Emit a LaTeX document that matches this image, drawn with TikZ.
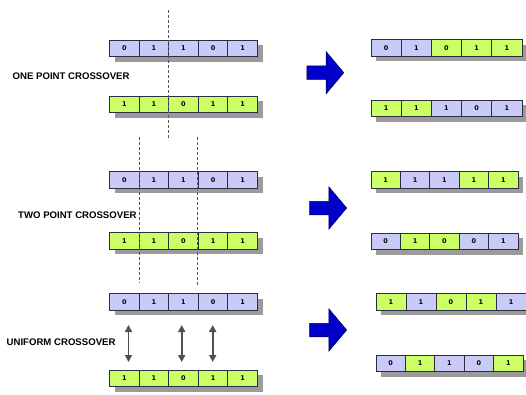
\documentclass[tikz,border=0pt]{standalone}
\usepackage{fontspec}
\setmainfont{Liberation Sans}
\newfontfamily\digitfont{DejaVu Sans}
\usetikzlibrary{arrows.meta,shapes.arrows}
\definecolor{bluec}{RGB}{202,202,248}
\definecolor{greenc}{RGB}{204,255,102}
\definecolor{shadowc}{RGB}{155,155,155}
\definecolor{borderc}{RGB}{45,45,65}
\definecolor{dashc}{RGB}{85,85,85}
\definecolor{arrowc}{RGB}{80,80,80}
\definecolor{bigarrow}{RGB}{0,0,200}
\tikzset{
  cell/.style={draw=borderc, line width=0.9pt, inner sep=0pt, minimum height=16.5pt,
    font=\digitfont\bfseries\fontsize{6.5}{7}\selectfont, anchor=center},
  cutline/.style={draw=dashc, line width=0.9pt, dash pattern=on 3pt off 2pt},
  swaparrow/.style={draw=arrowc, line width=1.7pt, {Triangle[width=7pt,length=7pt]}-{Triangle[width=7pt,length=7pt]}},
  bluearrow/.style={single arrow, draw=black!70!blue, line width=0.5pt, fill=bigarrow,
    single arrow head extend=14.5pt, single arrow tip angle=100, inner xsep=0pt, inner ysep=6.5pt,
    minimum height=37pt},
  lbl/.style={font=\bfseries\fontsize{9.6}{11}\selectfont, anchor=west, inner sep=0pt}
}
\newcommand\chromo[5]{%
  \fill[shadowc] (#2+5,#3+5) rectangle ++(5*#4,16.5);
  \foreach \c/\d [count=\i] in {#5} {
    \node[cell, fill=\c, minimum width=#4 pt] (#1-\i) at ({#2+#4*\i-#4/2},{#3+8.25}) {\d};
  }%
}
\begin{document}
\begin{tikzpicture}[x=1pt,y=-1pt]
\useasboundingbox (0,0) rectangle (526,394);
% left parents
\chromo{pa}{109.5}{40}{29.6}{bluec/0,bluec/1,bluec/1,bluec/0,bluec/1}
\chromo{pb}{109.5}{96}{29.6}{greenc/1,greenc/1,greenc/0,greenc/1,greenc/1}
\chromo{pc}{109.5}{171.5}{29.6}{bluec/0,bluec/1,bluec/1,bluec/0,bluec/1}
\chromo{pd}{109.5}{232.5}{29.6}{greenc/1,greenc/1,greenc/0,greenc/1,greenc/1}
\chromo{pe}{109.5}{293.5}{29.6}{bluec/0,bluec/1,bluec/1,bluec/0,bluec/1}
\chromo{pf}{109.5}{370}{29.6}{greenc/1,greenc/1,greenc/0,greenc/1,greenc/1}
% right offspring
\chromo{oa}{371}{39.5}{30.2}{bluec/0,bluec/1,greenc/0,greenc/1,greenc/1}
\chromo{ob}{371}{100}{30.2}{greenc/1,greenc/1,bluec/1,bluec/0,bluec/1}
\chromo{oc}{371}{171.5}{29.4}{greenc/1,bluec/1,bluec/1,greenc/1,greenc/1}
\chromo{od}{371}{233}{29.4}{bluec/0,greenc/1,greenc/0,bluec/0,bluec/1}
\chromo{oe}{376}{293.5}{30}{greenc/1,bluec/1,greenc/0,greenc/1,bluec/1}
\chromo{of}{376}{355}{29.4}{bluec/0,greenc/1,bluec/1,bluec/0,greenc/1}
% labels
\node[lbl] (l1) at (12.5,76) {ONE POINT CROSSOVER};
\node[lbl] (l2) at (18,215) {TWO POINT CROSSOVER};
\node[lbl] (l3) at (6.5,342) {UNIFORM CROSSOVER};
% cut lines
\coordinate (c1a) at (168,10);  \coordinate (c1b) at (168,140);
\coordinate (c2a) at (139.5,137); \coordinate (c2b) at (139.5,283);
\coordinate (c3a) at (197,137); \coordinate (c3b) at (197,285);
\draw[cutline] (c1a) -- (c1b);
\draw[cutline] (c2a) -- (c2b);
\draw[cutline] (c3a) -- (c3b);
% swap arrows
\coordinate (s1a) at (128.5,325); \coordinate (s1b) at (128.5,362);
\coordinate (s2a) at (181.7,325); \coordinate (s2b) at (181.7,362);
\coordinate (s3a) at (212.7,325); \coordinate (s3b) at (212.7,362);
\draw[swaparrow] (s1a) -- (s1b);
\draw[swaparrow] (s2a) -- (s2b);
\draw[swaparrow] (s3a) -- (s3b);
% big arrows
\node[bluearrow] (b1) at (322.5,72.7) {};
\node[bluearrow] (b2) at (325.3,208) {};
\node[bluearrow] (b3) at (325.3,330) {};
\end{tikzpicture}
\end{document}
